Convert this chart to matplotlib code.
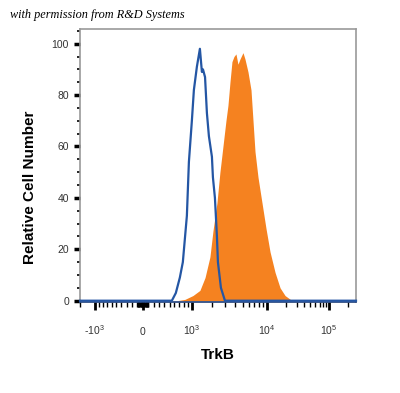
import numpy as np
import matplotlib
matplotlib.use('Agg')
import matplotlib.pyplot as plt
from matplotlib.ticker import FixedLocator, MultipleLocator

plt.rcParams['font.family'] = ['Liberation Sans', 'DejaVu Sans']
plt.rcParams['mathtext.fontset'] = 'custom'
plt.rcParams['mathtext.rm'] = 'Liberation Sans'
plt.rcParams['mathtext.it'] = 'Liberation Sans:italic'
plt.rcParams['mathtext.bf'] = 'Liberation Sans:bold'

# isotype control (blue outline)
ctrl_x = [-2000, 546, 629, 716, 783, 877, 926, 1000, 1082, 1210, 1348, 1445, 1498,
          1606, 1708, 1822, 2005, 2069, 2202, 2342, 2415, 2645, 2982, 270000]
ctrl_y = [0, 0, 3, 9, 15, 33, 54, 70, 82, 91, 98, 89, 90,
          87, 73, 64, 56, 48, 40, 25, 15, 5, 0, 0]

# TrkB stained cells (orange fill)
trkb_x = [650, 830, 1043, 1348, 1606, 1882, 2069, 2342, 2566, 2809, 3072, 3260, 3458,
          3666, 3887, 4119, 4365, 4625, 5043, 5341, 5821, 6343, 6715, 7107, 7743, 8677,
          9720, 11180, 13470, 16220, 19520, 25320]
trkb_y = [0, 0.5, 2, 4, 9, 17, 27, 38, 50, 60, 70, 76, 85,
          93, 95, 96, 92, 94, 96.5, 94, 89, 82, 70, 58, 48, 38,
          28, 19, 11, 5, 2, 0]

xticks = [-1e3, 0, 1e3, 1e4, 1e5]
xticklabels = ['-$10^{3}$', '0', '$10^{3}$', '$10^{4}$', '$10^{5}$']
yticks = [0, 20, 40, 60, 80, 100]

# biexponential-like axis (linear near 0, log at the ends)
W = 1000.0
A = np.arcsinh(np.array([-1e4, -1e3, 0, 1e3, 1e4, 1e5, 1e6]) / W)
P = np.array([40, 95, 143, 192, 267, 329, 391], dtype=float)

def fwd(x):
    return np.interp(np.arcsinh(np.asarray(x, dtype=float) / W), A, P)

def inv(p):
    return W * np.sinh(np.interp(np.asarray(p, dtype=float), P, A))

fig = plt.figure(figsize=(4, 3.93), dpi=100)
ax = fig.add_axes([0.2, 0.2316, 0.69, 0.6946])
ax.set_xscale('function', functions=(fwd, inv))

ax.fill_between(trkb_x, trkb_y, 0, color='#f58220', lw=0)
ax.plot(ctrl_x, ctrl_y, color='#2456a4', lw=1.6, clip_on=False, zorder=5)

ax.set_xlim(-2000, 270000)
ax.set_ylim(-0.5, 105.7)

minors = [s * k * 10 ** n for s in (-1, 1) for n in range(1, 6) for k in range(1, 10)]
minors = [m for m in minors if -2000 <= m <= 270000 and m not in xticks]
ax.xaxis.set_major_locator(FixedLocator(xticks))
ax.xaxis.set_minor_locator(FixedLocator(minors))
ax.set_xticklabels(xticklabels)
ax.yaxis.set_major_locator(FixedLocator(yticks))
ax.yaxis.set_minor_locator(MultipleLocator(5))

ax.tick_params(axis='x', which='major', length=6, width=2, pad=18, labelsize=7.5, labelcolor='#333333')
ax.tick_params(axis='x', which='minor', length=3.5, width=1)
ax.tick_params(axis='y', which='major', length=4, width=2.5, pad=4, labelsize=7.5, labelcolor='#333333')
ax.tick_params(axis='y', which='minor', length=2, width=1.2)
for lab in ax.get_xticklabels():
    lab.set_va('baseline')

for s in ('top', 'right', 'left'):
    ax.spines[s].set_color('#999999')
    ax.spines[s].set_linewidth(1.2)
ax.spines['bottom'].set_color('#1f3f7a')
ax.spines['bottom'].set_linewidth(1.2)

ax.set_xlabel('TrkB', fontsize=11, fontweight='bold', va='center')
ax.xaxis.set_label_coords(0.5, -0.194)
ax.set_ylabel('Relative Cell Number', fontsize=11, fontweight='bold', va='center')
ax.yaxis.set_label_coords(-0.181, 0.42)

fig.text(0.025, 0.962, 'with permission from R&D Systems', fontsize=8.8,
         style='italic', family='Liberation Serif', va='center')

fig.savefig('out.png', dpi=100)
